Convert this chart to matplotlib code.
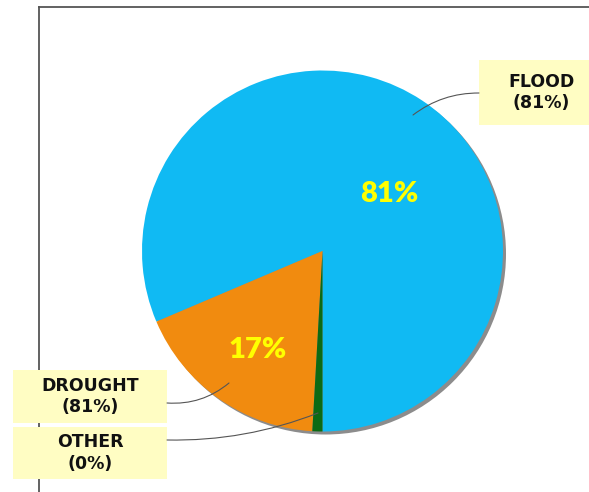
import matplotlib.pyplot as plt
from matplotlib.patches import Circle, Rectangle

# ------------------------------
# Data
# ------------------------------
categories = ["FLOOD", "DROUGHT", "OTHER"]
shares = [81.4, 17.7, 0.9]
inner_labels = ["81%", "17%", ""]
box_labels = ["(81%)", "(81%)", "(0%)"]   # as printed on the original chart
colors = ["#10BAF3", "#F18B0F", "#0C6A14"]

# ------------------------------
# Layout (pixel units, y up)
# ------------------------------
W, H = 589, 492
cx, cy, R = 322.5, 241, 180.5

fig = plt.figure(figsize=(W / 100, H / 100), dpi=100)
ax = fig.add_axes([0, 0, 1, 1])

# drop shadow
ax.add_patch(Circle((cx + 3, cy - 3), R, facecolor="#8c8c8c",
                    edgecolor="none", zorder=0.5))

ax.pie(shares, colors=colors, startangle=270, counterclock=True,
       radius=R, center=(cx, cy), frame=False,
       wedgeprops=dict(linewidth=0, zorder=1))

ax.set_xlim(0, W)
ax.set_ylim(0, H)
ax.set_aspect("equal")
ax.axis("off")

# frame lines (top / left)
ax.plot([39, 39], [0, 485], color="#555555", lw=1.3, clip_on=False)
ax.plot([39, W], [485, 485], color="#555555", lw=1.3, clip_on=False)

# percentages inside the slices
inner_pos = [(389, H - 194), (258, H - 350), (0, 0)]
for txt, (x, y) in zip(inner_labels, inner_pos):
    if txt:
        ax.text(x, y, txt, color="#FFFF00", fontsize=21, fontweight="heavy",
                family="Lato", ha="center", va="center", zorder=3)

# callout boxes: (x0, y0, w, h) in pixels, y up
boxes = [(479, H - 125, 115, 65), (13, H - 423, 154, 53), (13, H - 479, 154, 52)]
anchors = [(413, H - 115), (229, H - 383), (318, H - 413)]
ends = [(479, H - 93), (167, H - 403), (167, H - 440)]
rads = [0.17, 0.2, 0.1]

for cat, pct, (x0, y0, w, h), a, e, r in zip(categories, box_labels, boxes,
                                             anchors, ends, rads):
    ax.add_patch(Rectangle((x0, y0), w, h, facecolor="#FFFDC3",
                           edgecolor="none", zorder=2, clip_on=False))
    tx = x0 + 77 if x0 < 100 else 541
    ax.text(tx, y0 + h / 2, f"{cat}\n{pct}", ha="center", va="center",
            fontsize=12.5, fontweight="bold", color="#111111",
            linespacing=1.25, zorder=3)
    ax.annotate("", xy=a, xytext=e,
                arrowprops=dict(arrowstyle="-", color="#555555", lw=0.8,
                                connectionstyle=f"arc3,rad={r}",
                                shrinkA=0, shrinkB=0), zorder=2.5)

fig.savefig("out.png", dpi=100)
